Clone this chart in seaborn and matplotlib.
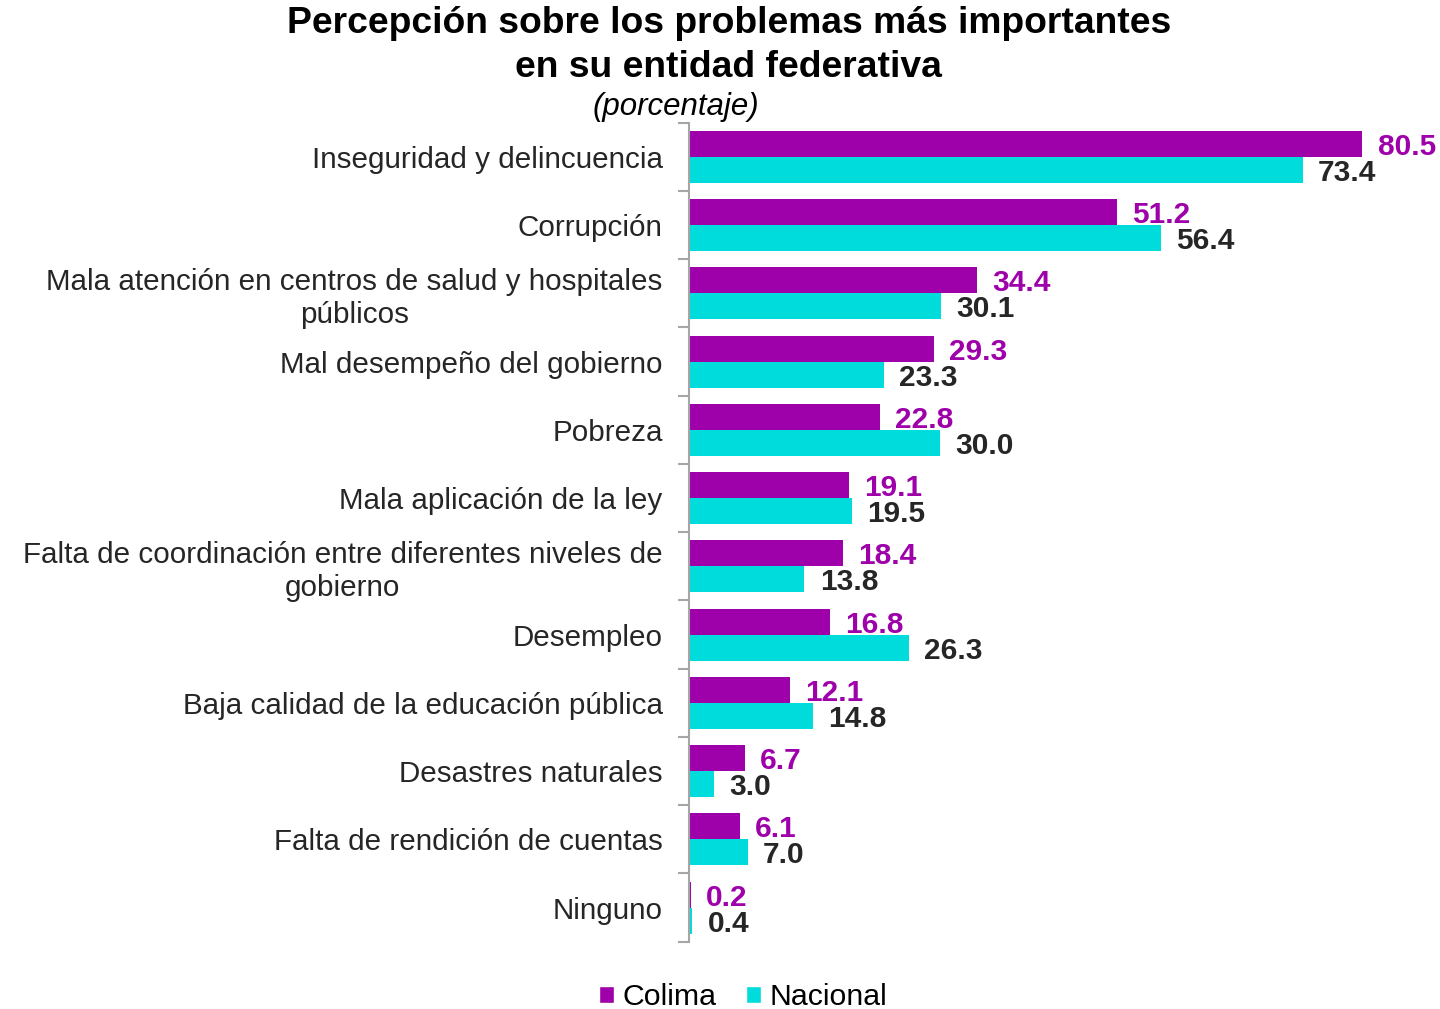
import numpy as np
import pandas as pd
import seaborn as sns
import matplotlib.pyplot as plt
from matplotlib.ticker import FixedLocator
from matplotlib.patches import Patch


categorias = [
    'Inseguridad y delincuencia',
    'Corrupción',
    'Mala atención en centros de salud y hospitales\npúblicos',
    'Mal desempeño del gobierno',
    'Pobreza',
    'Mala aplicación de la ley',
    'Falta de coordinación entre diferentes niveles de\ngobierno',
    'Desempleo',
    'Baja calidad de la educación pública',
    'Desastres naturales',
    'Falta de rendición de cuentas',
    'Ninguno',
]
colima = [80.5, 51.2, 34.4, 29.3, 22.8, 19.1, 18.4, 16.8, 12.1, 6.7, 6.1, 0.2]
nacional = [73.4, 56.4, 30.1, 23.3, 30.0, 19.5, 13.8, 26.3, 14.8, 3.0, 7.0, 0.4]
series = ['Colima', 'Nacional']

morado = '#9e00aa'
cian = '#00dcdc'
gris_txt = '#262626'

df = pd.DataFrame({
    'Problema': categorias * 2,
    'Porcentaje': colima + nacional,
    'Serie': [series[0]] * len(categorias) + [series[1]] * len(categorias),
})

sns.set_style('white')
plt.rcParams['font.family'] = ['Liberation Sans', 'DejaVu Sans']

fig = plt.figure(figsize=(14.4, 10.09), dpi=100)
ax = fig.add_axes([0.4785, 0.0667, 0.5215, 0.8117])

sns.barplot(data=df, y='Problema', x='Porcentaje', hue='Serie', orient='h',
            palette=[morado, cian], width=0.76, saturation=1, ax=ax,
            legend=False, linewidth=0, edgecolor='none')

ax.set_xlim(0, 89.8)
ax.set_ylim(len(categorias) - 0.5, -0.5)
ax.set_xlabel('')
ax.set_ylabel('')
ax.set_xticks([])

# etiquetas de datos (un poco por debajo del centro de la barra)
for cont, col in zip(ax.containers, [morado, gris_txt]):
    textos = ax.bar_label(cont, fmt='%.1f', padding=11, color=col,
                          fontsize=21.5, fontweight='bold')
    for t in textos:
        t.xyann = (11, -2.2)

# ticks de categoría sin marca, marcas en los límites
ax.tick_params(axis='y', which='major', left=False, pad=15.5, labelsize=21.3,
               labelcolor=gris_txt)
ax.yaxis.set_minor_locator(FixedLocator(np.arange(-0.5, len(categorias), 1)))
ax.tick_params(axis='y', which='minor', left=True, direction='out', length=8,
               width=1.5, color='#a6a6a6')
for lbl in ax.get_yticklabels():
    lbl.set_multialignment('center')

for s in ['top', 'right', 'bottom']:
    ax.spines[s].set_visible(False)
ax.spines['left'].set_color('#a6a6a6')
ax.spines['left'].set_linewidth(1.5)

fig.text(0.506, 0.977, 'Percepción sobre los problemas más importantes',
         ha='center', va='center', fontsize=26.8, fontweight='bold', color='black')
fig.text(0.506, 0.933, 'en su entidad federativa',
         ha='center', va='center', fontsize=26.8, fontweight='bold', color='black')
fig.text(0.469, 0.894, '(porcentaje)', ha='center', va='center',
         fontsize=22.5, style='italic', color='black')

handles = [Patch(facecolor=morado), Patch(facecolor=cian)]
fig.legend(handles, series, loc='center', bbox_to_anchor=(0.516, 0.012),
           ncol=2, frameon=False, fontsize=21.8, handlelength=0.5,
           handleheight=0.5, handletextpad=0.3, columnspacing=0.95,
           labelcolor='black')

fig.savefig('out.png', dpi=100)
